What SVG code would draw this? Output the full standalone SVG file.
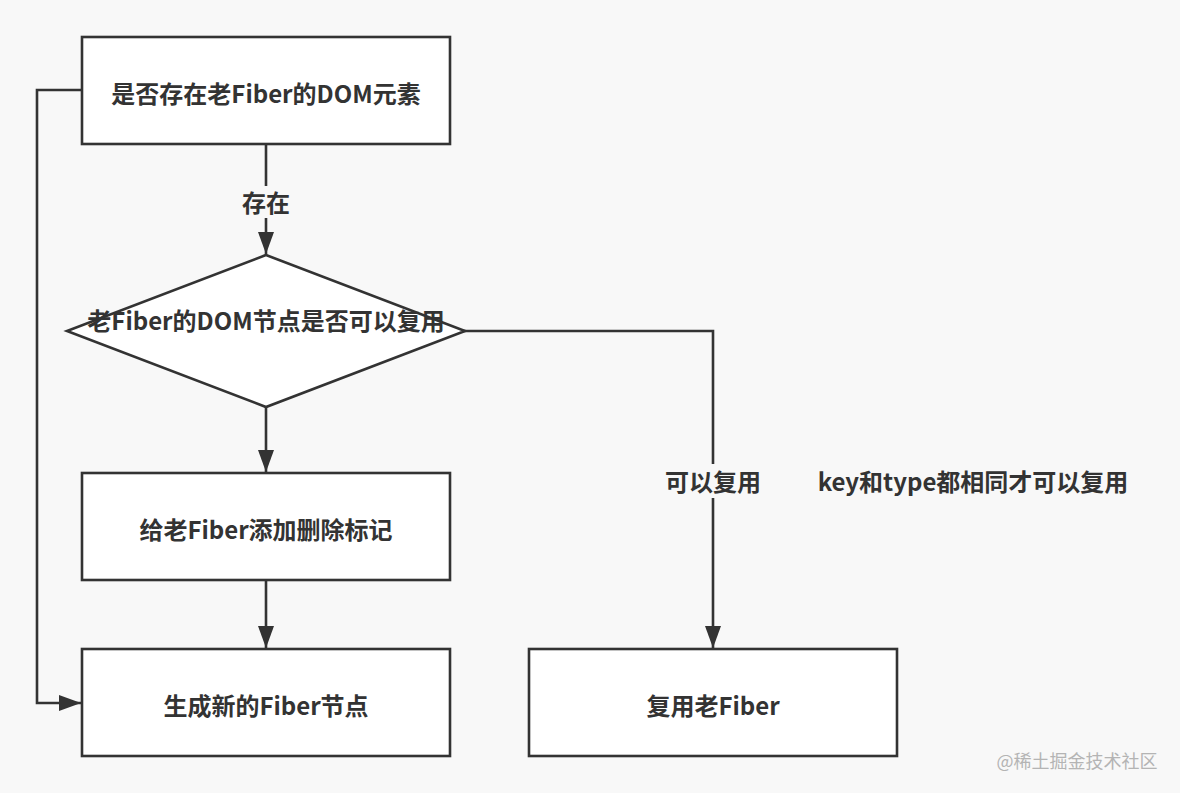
<svg xmlns="http://www.w3.org/2000/svg" width="1180" height="793" viewBox="0 0 1180 793">
<style>
.node{fill:#ffffff;stroke:#333333;stroke-width:2.6}
.edge{fill:none;stroke:#333333;stroke-width:2.6}
.t{font-family:"Noto Sans CJK SC","Noto Sans",sans-serif;font-weight:bold;font-size:24px;fill:#333333;text-anchor:middle;dominant-baseline:central}
.wm{font-family:"Noto Sans CJK SC","Noto Sans",sans-serif;font-size:18px;fill:#b4b4b4;text-anchor:middle;dominant-baseline:central}
</style>
<defs>
<marker id="arr" markerUnits="userSpaceOnUse" markerWidth="24" markerHeight="16" viewBox="0 0 24 16" refX="22" refY="8" orient="auto">
<path d="M0,0 L22,8 L0,16 Z" fill="#333333"/>
</marker>
</defs>
<rect x="0" y="0" width="1180" height="793" fill="#f8f8f8"/>
<g id="connectors">
<path class="edge" d="M266,144 L266,254" marker-end="url(#arr)"/>
<rect x="234" y="186" width="64" height="32" fill="#f8f8f8"/>
<text class="t" x="266" y="201">存在</text>
<path class="edge" d="M266,407 L266,472" marker-end="url(#arr)"/>
<path class="edge" d="M266,580 L266,648" marker-end="url(#arr)"/>
<path class="edge" d="M82,90 L37,90 L37,703 L81,703" marker-end="url(#arr)"/>
<path class="edge" d="M463,331 L713,331 L713,648" marker-end="url(#arr)"/>
<rect x="660" y="464" width="106" height="34" fill="#f8f8f8"/>
<text class="t" x="713" y="480">可以复用</text>
</g>
<g id="n1">
<rect class="node" x="82" y="37" width="368" height="107"/>
<text class="t" x="266" y="92">是否存在老Fiber的DOM元素</text>
</g>
<g id="n2">
<path class="node" d="M266,255 L465,331 L266,407 L67,331 Z"/>
<text class="t" x="266" y="319">老Fiber的DOM节点是否可以复用</text>
</g>
<g id="n3">
<rect class="node" x="82" y="473" width="368" height="107"/>
<text class="t" x="266" y="528">给老Fiber添加删除标记</text>
</g>
<g id="n4">
<rect class="node" x="82" y="649" width="368" height="107"/>
<text class="t" x="266" y="704">生成新的Fiber节点</text>
</g>
<g id="n5">
<rect class="node" x="529" y="649" width="368" height="107"/>
<text class="t" x="713" y="704">复用老Fiber</text>
</g>
<g id="note">
<text class="t" x="973" y="480">key和type都相同才可以复用</text>
</g>
<text class="wm" x="1077" y="760">@稀土掘金技术社区</text>
</svg>
